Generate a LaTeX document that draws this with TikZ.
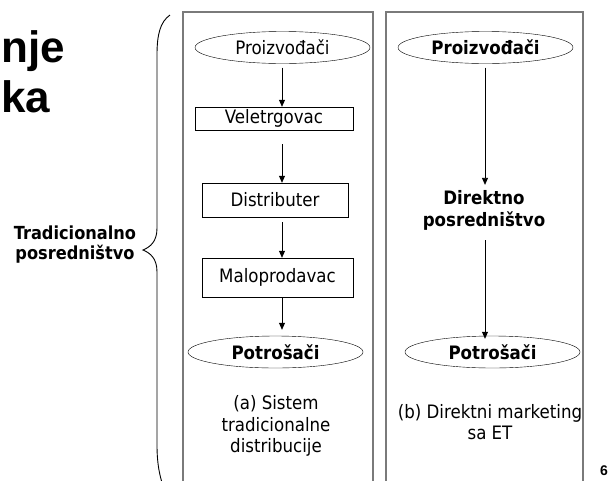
\documentclass[tikz,border=0pt]{standalone}
\usepackage{fontspec}
\setmainfont{DejaVu Sans Condensed}
\newfontfamily\naslovfont{Liberation Sans}
\usetikzlibrary{positioning, arrows.meta, shapes.geometric, calc}
\definecolor{okvir}{HTML}{7A7A7A}

\begin{document}
\begin{tikzpicture}[x=1pt, y=-1pt,
  elipsa/.style={draw, ellipse, minimum width=175pt, minimum height=32pt, inner sep=0pt, font=\fontsize{18.5}{20}\selectfont},
  kutija/.style={draw, rectangle, inner sep=0pt, font=\fontsize{18.5}{20}\selectfont},
  strel/.style={-{Triangle[length=7pt, width=6pt]}, line width=0.8pt},
  panel/.style={draw=okvir, line width=1.3pt}]
  \useasboundingbox (0,0) rectangle (611,480);

  % Naslov
  \node[anchor=base west, inner sep=0pt, font=\naslovfont\bfseries\fontsize{44}{44}\selectfont] (nasl1) at (1,62) {nje};
  \node[anchor=base west, inner sep=0pt, font=\naslovfont\bfseries\fontsize{44}{44}\selectfont] (nasl2) at (1,112) {ka};

  % Okviri
  \draw[panel] (183,12) rectangle (373,495);
  \draw[panel] (386,12) rectangle (583,495);

  % Zagrada
  \draw[line width=0.9pt] (170,15) .. controls (160,22) and (157,35) .. (157,55) -- (157,228)
    .. controls (157,242) and (150,247) .. (143,250)
    .. controls (150,253) and (157,258) .. (157,272) -- (157,445)
    .. controls (157,465) and (160,478) .. (165,492);
  \node[align=center, inner sep=0pt, font=\bfseries\fontsize{18}{20}\selectfont] (trad) at (75,245) {Tradicionalno\\posredništvo};

  % (a) tradicionalna distribucija
  \coordinate (osA) at (282,0);
  \node[elipsa] (proizA) at (282.5,47.5) {Proizvođači};
  \node[kutija, minimum width=158pt, minimum height=23pt] (veleA) at (274,118.5) {Veletrgovac};
  \node[kutija, minimum width=146pt, minimum height=34pt] (distA) at (275,200) {Distributer};
  \node[kutija, minimum width=151pt, minimum height=39pt] (maloA) at (277.5,277.5) {Maloprodavac};
  \node[elipsa, font=\bfseries\fontsize{18.5}{20}\selectfont] (potrA) at (275.5,352) {Potrošači};
  \node[align=center, inner sep=0pt, font=\fontsize{18.5}{21.5}\selectfont] (opisA) at (276,426) {(a) Sistem\\tradicionalne\\distribucije};

  \draw[strel, shorten <=4pt] (proizA.south -| osA) -- (veleA.north -| osA);
  \draw[strel, shorten <=14pt] (veleA.south -| osA) -- (distA.north -| osA);
  \draw[strel, shorten <=5pt] (distA.south -| osA) -- (maloA.north -| osA);
  \draw[strel, shorten <=1pt, shorten >=6pt] (maloA.south -| osA) -- (potrA.north -| osA);

  % (b) direktni marketing
  \coordinate (osB) at (485,0);
  \node[elipsa, font=\bfseries\fontsize{18.5}{20}\selectfont] (proizB) at (485.5,47.5) {Proizvođači};
  \node[align=center, inner sep=0pt, font=\bfseries\fontsize{18.5}{22}\selectfont] (direkt) at (484,210) {Direktno\\posredništvo};
  \node[elipsa, font=\bfseries\fontsize{18.5}{20}\selectfont] (potrB) at (492.5,352) {Potrošači};
  \node[align=center, inner sep=0pt, font=\fontsize{18.5}{21.5}\selectfont] (opisB) at (490,422) {(b) Direktni marketing\\sa ET};

  \draw[strel, shorten <=4pt, shorten >=5pt] (proizB.south -| osB) -- (direkt.north -| osB);
  \draw[strel, shorten <=10pt, shorten >=-3pt] (direkt.south -| osB) -- (potrB.north -| osB);

  \node[font=\naslovfont\bfseries\fontsize{14}{14}\selectfont] (broj) at (604,471) {6};
\end{tikzpicture}
\end{document}
